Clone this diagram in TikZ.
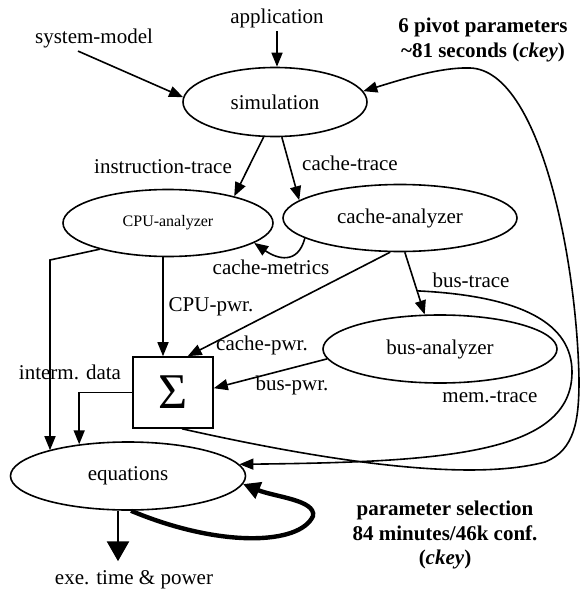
\documentclass[tikz,border=0pt]{standalone}
\usepackage{fontspec}
\setmainfont{Liberation Serif}
\usetikzlibrary{shapes.geometric,arrows.meta}
\begin{document}
\begin{tikzpicture}[x=1pt, y=-1pt,
    font=\fontsize{21}{25}\selectfont,
    ell/.style={ellipse, draw, line width=1.6pt, inner sep=0pt},
    arr/.style={line width=1.6pt, -{Triangle[length=14pt,width=11pt]}},
    bigarr/.style={line width=2.8pt, -{Triangle[length=20pt,width=22pt]}},
    selarr/.style={line width=4.4pt, -{Triangle[length=17pt,width=17pt]}},
    bold/.style={font=\fontsize{21}{24.5}\selectfont\bfseries, align=center}]
    \useasboundingbox (0,0) rectangle (581,591);
    % blocks
    \node[ell, minimum width=184pt, minimum height=69pt] (sim) at (275,102) {simulation};
    \node[ell, minimum width=210pt, minimum height=67pt, font=\fontsize{16}{18}\selectfont] (cpu) at (168,223) {CPU-analyzer};
    \node[ell, minimum width=234pt, minimum height=67pt] (cache) at (400,218) {cache-analyzer};
    \node[ell, minimum width=234pt, minimum height=68pt] (bus) at (440,349) {bus-analyzer};
    \node[ell, minimum width=235pt, minimum height=68pt] (eq) at (128,476) {equations};
    \node[draw, line width=1.6pt, minimum width=80pt, minimum height=71pt, inner sep=0pt, font=\fontsize{50}{50}\selectfont] (sum) at (173,392.5) {Σ};
    % texts
    \node (sm) at (94,38) {system-model};
    \node (app) at (277,18) {application};
    \node (itr) at (163,167) {instruction-trace};
    \node (ctr) at (350,163) {cache-trace};
    \node (cmet) at (271,267) {cache-metrics};
    \node (cpwr) at (211,307) {CPU-pwr.};
    \node (chpwr) at (262,345) {cache-pwr.};
    \node (bpwr) at (292,385) {bus-pwr.};
    \node (btr) at (471,280) {bus-trace};
    \node (mtr) at (490,397) {mem.-trace};
    \node (imd) at (70,372) {interm. data};
    \node (out) at (134,580) {exe. time \& power};
    \node[bold] (pivot) at (483,40) {6 pivot parameters\\\textasciitilde81 seconds (\textit{ckey})};
    \node[bold] (psel) at (445,535) {parameter selection\\84 minutes/46k conf.\\(\textit{ckey})};
    % connectors
    \draw[arr] ([xshift=-16pt]sm.south) -- (sim.177);
    \draw[arr] (app.south) -- (app.south |- sim.north);
    \draw[arr] (sim.252) -- (cpu.22);
    \draw[arr] (sim.281) -- (cache.170);
    \draw[arr] (cache.192) to[out=-105, in=-35, looseness=1.4] (cpu.347);
    \coordinate (sumin) at ([xshift=-10pt]sum.north);
    \draw[arr] (cpu.south -| sumin) -- (sumin);
    \draw[arr] (cache.254) -- (sum.68);
    \draw[arr] (bus.185) -- (sum.6);
    \draw[arr] (cache.278) -- coordinate[pos=0.62] (tap) (bus.114);
    \coordinate (ibend) at (50,260);
    \draw[arr] (cpu.201) -- (ibend) -- (ibend |- eq.162);
    \draw[arr] (sum.west) -| (eq.147);
    \draw[bigarr, shorten >=6pt] ([xshift=-10pt]eq.south) -- ([xshift=-10pt]eq.south |- out.north);
    \draw[selarr] (eq.275) .. controls (220,548) and (300,545) .. (313,516) .. controls (316,500) and (275,497) .. (eq.356);
    \draw[arr] (tap) .. controls (525,296) and (572,325) .. (572,372) .. controls (572,455) and (440,462) .. (eq.6);
    \draw[arr] ([xshift=9pt]sum.south) .. controls (330,462) and (470,482) .. (545,462) .. controls (575,450) and (579,420) .. (579,380) .. controls (577,260) and (540,70) .. (470,68) .. controls (440,67) and (400,80) .. (sim.7);
\end{tikzpicture}
\end{document}
